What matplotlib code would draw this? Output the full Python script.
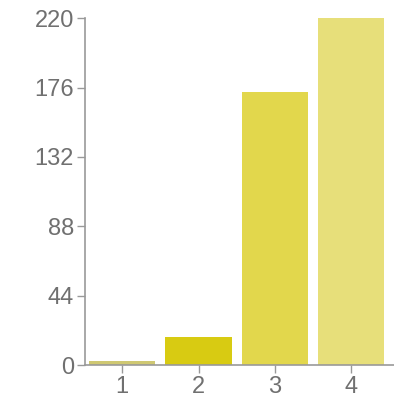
import numpy as np
import matplotlib.pyplot as plt

plt.rcParams['font.family'] = ['Liberation Sans', 'DejaVu Sans']

# Data
categories = ["1", "2", "3", "4"]
counts = [2.5, 18, 173, 220]
colors = ["#cfc872", "#d8cb12", "#e2d74c", "#e7df7a"]
yticks = [0, 44, 88, 132, 176, 220]

fig = plt.figure(figsize=(3.94, 4.03), dpi=100)
ax = fig.add_axes([0.216, 0.094, 0.784, 0.861])

x = np.arange(len(categories))
ax.bar(x, counts, width=0.87, color=colors)

ax.set_xlim(-0.485, 3.56)
ax.set_ylim(0, 220)
ax.set_xticks(x)
ax.set_xticklabels(categories)
ax.set_yticks(yticks)

for s in ["top", "right"]:
    ax.spines[s].set_visible(False)
for s in ["left", "bottom"]:
    ax.spines[s].set_color("#999999")
    ax.spines[s].set_linewidth(1.2)

ax.tick_params(colors="#999999", labelcolor="#707070", labelsize=17,
               length=6, width=1.0, pad=2)

fig.savefig("out.png", dpi=100)
